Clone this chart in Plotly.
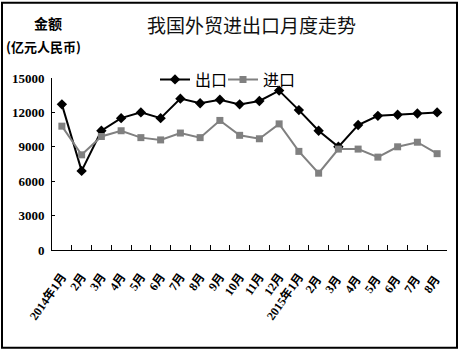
import plotly.graph_objects as go

categories = ["2014年1月", "2月", "3月", "4月", "5月", "6月", "7月", "8月", "9月", "10月",
              "11月", "12月", "2015年1月", "2月 ", "3月 ", "4月 ", "5月 ", "6月 ", "7月 ", "8月 "]
export_vals = [12700, 6900, 10400, 11500, 12000, 11500, 13200, 12800, 13100, 12700,
               13000, 13900, 12200, 10400, 9000, 10900, 11700, 11800, 11900, 12000]
import_vals = [10800, 8300, 9900, 10400, 9800, 9600, 10200, 9800, 11300, 10000,
               9700, 11000, 8600, 6700, 8800, 8800, 8100, 9000, 9400, 8400]
y_ticks = [0, 3000, 6000, 9000, 12000, 15000]
y_ticktext = ["0", "3000", "6000", "9000", "12000", "15000"]

CJK = "Liberation Serif, Noto Sans CJK SC"

fig = go.Figure()
fig.add_trace(go.Scatter(
    x=categories, y=export_vals, name="出口", mode="lines+markers",
    line=dict(color="#000000", width=2),
    marker=dict(symbol="diamond", size=8, color="#000000"),
    legend="legend"))
fig.add_trace(go.Scatter(
    x=categories, y=import_vals, name="进口", mode="lines+markers",
    line=dict(color="#808080", width=2),
    marker=dict(symbol="square", size=7, color="#808080"),
    legend="legend2"))

L, R, T, B = 52, 13, 77.5, 101
W, H = 460, 351
pw, ph = W - L - R, H - T - B

def px(x):
    return (x - L) / pw

def py(y):
    return (H - B - y) / ph

fig.update_layout(
    width=W, height=H,
    margin=dict(l=L, r=R, t=T, b=B),
    paper_bgcolor="white", plot_bgcolor="white",
    showlegend=True,
    legend=dict(x=px(155), y=py(79), xanchor="left", yanchor="middle",
                font=dict(family="Noto Sans CJK SC", size=16, color="#000"),
                itemwidth=30, bgcolor="rgba(0,0,0,0)"),
    legend2=dict(x=px(223), y=py(79), xanchor="left", yanchor="middle",
                 font=dict(family="Noto Sans CJK SC", size=16, color="#000"),
                 itemwidth=30, bgcolor="rgba(0,0,0,0)"),
    xaxis=dict(
        type="category", showgrid=False, showline=True, linecolor="#000", linewidth=1,
        ticks="inside", ticklen=5, tickcolor="#000", tickson="boundaries",
        tickangle=-55, ticklabelstandoff=14,
        tickfont=dict(family=CJK, size=12, color="#000", weight="bold"),
        range=[-0.5, len(categories) - 0.5], zeroline=False),
    yaxis=dict(
        range=[0, 15000], tickvals=y_ticks, ticktext=y_ticktext, showgrid=False, showline=True,
        linecolor="#000", linewidth=1, ticks="inside", ticklen=3, tickcolor="#000",
        ticklabelstandoff=4,
        tickfont=dict(family="Liberation Serif", size=13, color="#000", weight="bold"),
        zeroline=False),
    font=dict(family=CJK),
    annotations=[
        dict(text="我国外贸进出口月度走势", x=px(251), y=py(24), xref="paper", yref="paper",
             showarrow=False, xanchor="center", yanchor="middle",
             font=dict(family="Noto Sans CJK SC", size=19, color="#111")),
        dict(text="<b>金额</b>", x=px(48), y=py(22), xref="paper", yref="paper",
             showarrow=False, xanchor="center", yanchor="middle",
             font=dict(family="Noto Sans CJK SC", size=14, color="#000")),
        dict(text="<b>(亿元人民币)</b>", x=px(43), y=py(46), xref="paper", yref="paper",
             showarrow=False, xanchor="center", yanchor="middle",
             font=dict(family="Noto Sans CJK SC", size=13, color="#000")),
    ],
    shapes=[dict(type="rect", xref="paper", yref="paper",
                 x0=px(2), x1=px(457), y0=py(348), y1=py(2),
                 line=dict(color="#000", width=2))],
)

fig.write_html("out.html")
